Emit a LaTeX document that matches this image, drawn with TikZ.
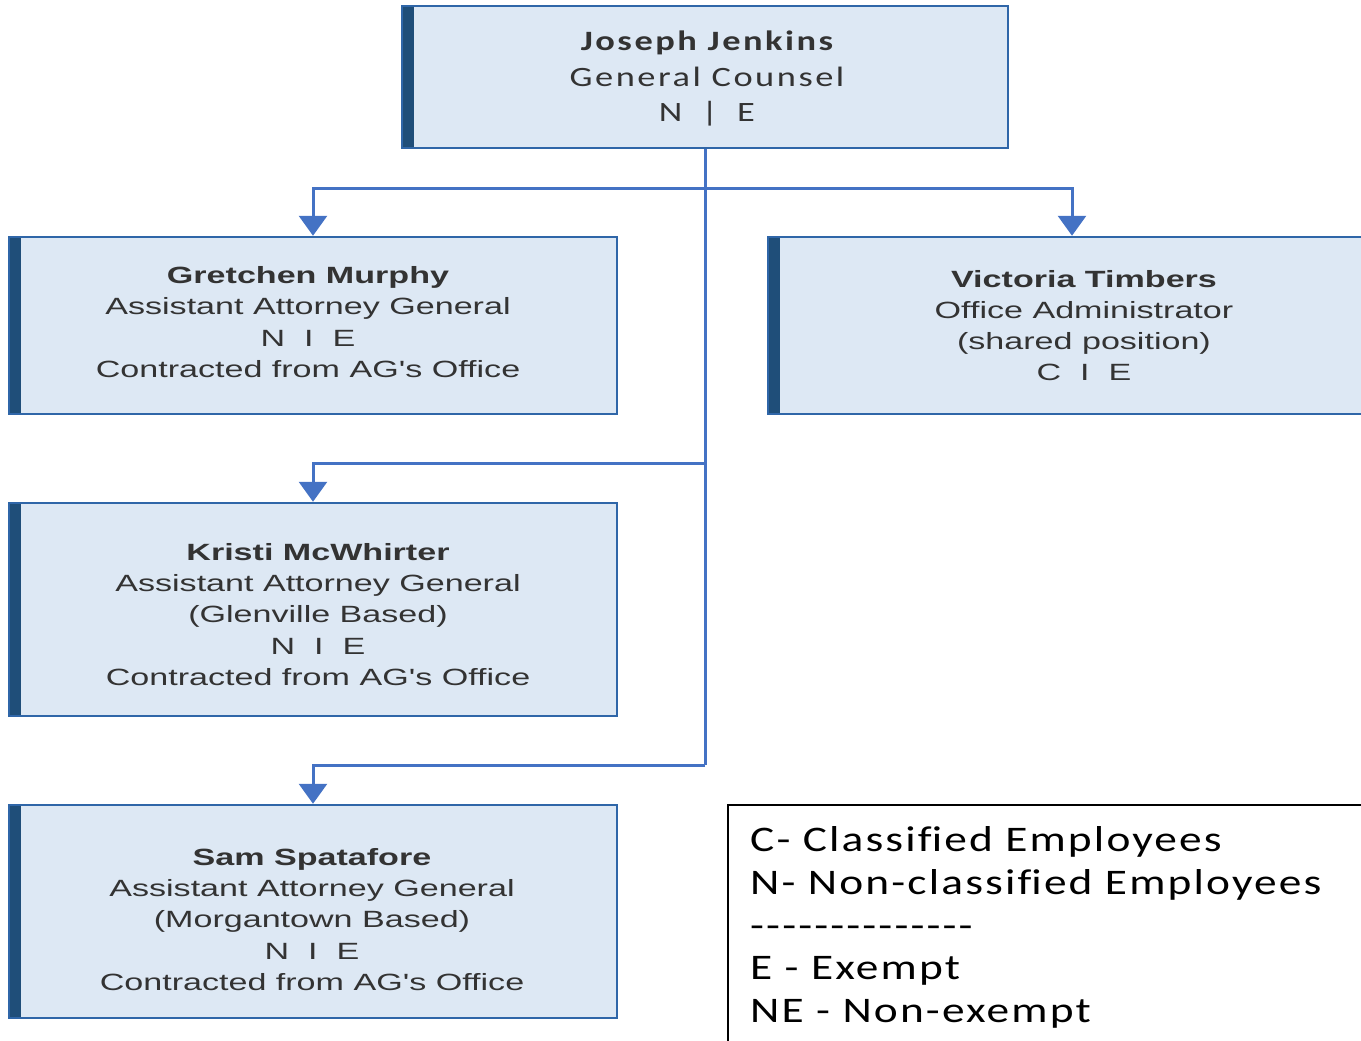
\documentclass[tikz,border=0pt]{standalone}
\usepackage{fontspec}
\usetikzlibrary{arrows.meta}
\newfontfamily\boxfont[FakeStretch=1.45]{Liberation Sans}
\newfontfamily\topfont[FakeStretch=1.3,LetterSpace=9]{Carlito}
\newfontfamily\legfont[FakeStretch=1.26,LetterSpace=6,Ligatures=NoCommon]{Carlito}
\definecolor{boxfill}{HTML}{DDE8F4}
\definecolor{boxedge}{HTML}{2F66A8}
\definecolor{strip}{HTML}{1F4E79}
\definecolor{conncol}{HTML}{4472C4}
\definecolor{txt}{HTML}{333333}
\tikzset{
  orgbox/.style={draw=boxedge, line width=2.5pt, fill=boxfill, inner sep=0pt, minimum width=#1,
    path picture={\fill[strip] (path picture bounding box.north west) rectangle ([xshift=12pt]path picture bounding box.south west);}},
  boxtext/.style={text=txt, align=center, inner sep=0pt, font=\boxfont\fontsize{23.5pt}{31.2pt}\selectfont},
  toptext/.style={text=txt, align=center, inner sep=0pt, font=\topfont\fontsize{28pt}{35.5pt}\selectfont},
  legtext/.style={text=black, anchor=base west, inner sep=0pt, font=\legfont\fontsize{36pt}{43pt}\selectfont},
  conn/.style={draw=conncol, line width=3pt},
  connarrow/.style={conn, -{Triangle[width=28pt,length=20pt]}}
}
\newcommand\gapsp{\hspace{19pt}}
\begin{document}
\begin{tikzpicture}[x=1pt,y=-1pt]
\useasboundingbox (0,0) rectangle (1361,1041);
\clip (0,0) rectangle (1361,1041);
% boxes
\node[orgbox=606pt, minimum height=142pt] (top) at (705,77) {};
\node[orgbox=608pt, minimum height=177pt] (gm) at (313,325.5) {};
\node[orgbox=608pt, minimum height=177pt] (vt) at (1072,325.5) {};
\node[orgbox=608pt, minimum height=213pt] (km) at (313,609.5) {};
\node[orgbox=608pt, minimum height=213pt] (ss) at (313,911.5) {};
% texts
\node[toptext] (toptx) at (707,78.5) {{\bfseries Joseph Jenkins}\\General Counsel\\N\gapsp|\gapsp E};
\node[boxtext] (gmtx) at (308,322) {{\bfseries Gretchen Murphy}\\Assistant Attorney General\\N\gapsp I\gapsp E\\Contracted from AG's Office};
\node[boxtext] (vttx) at (1084,325.5) {{\bfseries Victoria Timbers}\\Office Administrator\\(shared position)\\C\gapsp I\gapsp E};
\node[boxtext] (kmtx) at (318,614.5) {{\bfseries Kristi McWhirter}\\Assistant Attorney General\\(Glenville Based)\\N\gapsp I\gapsp E\\Contracted from AG's Office};
\node[boxtext] (sstx) at (312,919.5) {{\bfseries Sam Spatafore}\\Assistant Attorney General\\(Morgantown Based)\\N\gapsp I\gapsp E\\Contracted from AG's Office};
% connectors
\coordinate (b1) at (705,188);
\coordinate (b2) at (705,463);
\coordinate (b3) at (705,765);
\draw[conn] (top.south) -- (b3);
\draw[connarrow] (b1) -| (gm.north);
\draw[connarrow] (b1) -| (vt.north);
\draw[connarrow] (b2) -| (km.north);
\draw[connarrow] (b3) -| (ss.north);
% legend
\draw[black, line width=2.5pt] (728,1100) -- (728,805) -- (1400,805);
\node[legtext] (l1) at (750,851) {C- Classif\kern0pt ied Employees};
\node[legtext] (l2) at (750,894) {N- Non-classif\kern0pt ied Employees};
\node[legtext] (l3) at (750,937) {-{}-{}-{}-{}-{}-{}-{}-{}-{}-{}-{}-{}-{}-{}};
\node[legtext] (l4) at (750,979) {E - Exempt};
\node[legtext] (l5) at (750,1022) {NE - Non-exempt};
\end{tikzpicture}
\end{document}
